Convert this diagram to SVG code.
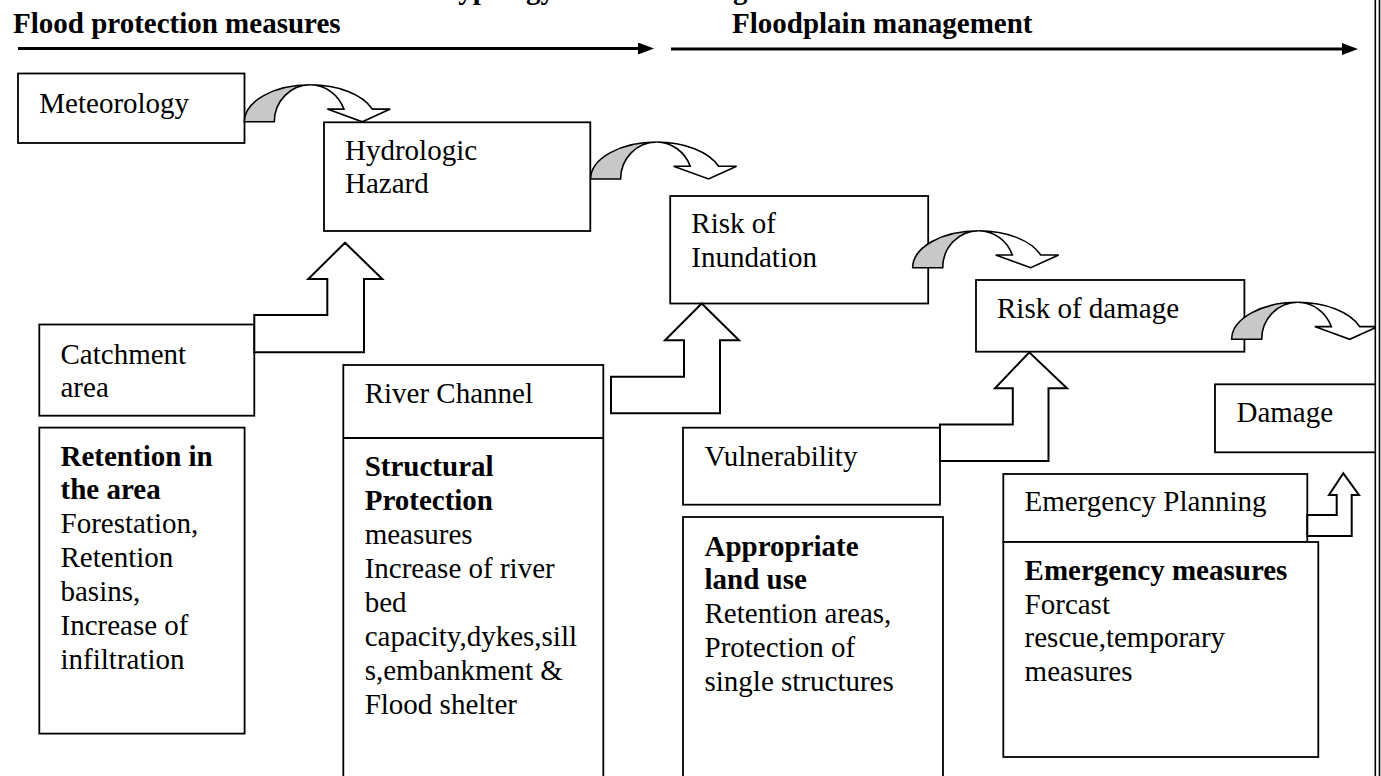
<svg xmlns="http://www.w3.org/2000/svg" width="1381" height="776" viewBox="0 0 1381 776">
<style>
.box{fill:#fff;stroke:#000;stroke-width:1.8}
.t{font-family:"Liberation Serif","Times New Roman",serif;font-size:29px;fill:#000}
.b{font-weight:bold}
.ba{fill:#fff;stroke:#000;stroke-width:2;stroke-linejoin:miter}
.hl{stroke:#000;stroke-width:2.8;fill:none}
.cg{fill:#c8c8c8;stroke:#000;stroke-width:1.6;stroke-linejoin:miter}
.cw{fill:#fff;stroke:#000;stroke-width:1.6;stroke-linejoin:miter}
</style>
<defs>
<marker id="ah" markerUnits="userSpaceOnUse" markerWidth="16" markerHeight="12" refX="0" refY="6" orient="auto">
<path d="M0,0 L16,6 L0,12 Z" fill="#000"/>
</marker>
<g id="curved">
<path class="cg" d="M0,0 A66,37 0 0 1 66,-37 A36,37 0 0 0 30,0 Z"/>
<path class="cw" d="M66,-37 A66,37 0 0 1 128,-12.7 L146,-12.7 L118,0 L83,-12.7 L99.6,-12.7 A36,37 0 0 0 66,-37 Z"/>
</g>
<clipPath id="inframe"><rect x="0" y="0" width="1375" height="776"/></clipPath>
</defs>
<rect width="1381" height="776" fill="#fff"/>

<g id="header">
<text class="t b" x="441" y="-1.5">Typology of flood management</text>
<text class="t b" x="13" y="33">Flood protection measures</text>
<text class="t b" x="732" y="33">Floodplain management</text>
<line class="hl" x1="18" y1="48.5" x2="638" y2="48.5" marker-end="url(#ah)"/>
<line class="hl" x1="671" y1="49" x2="1342" y2="49" marker-end="url(#ah)"/>
</g>

<g id="meteorology">
<rect class="box" x="18" y="73.5" width="226.5" height="69.5"/>
<text class="t" x="39.3" y="112.5">Meteorology</text>
</g>
<g id="hydrologic-hazard">
<rect class="box" x="324" y="122.3" width="266.3" height="108.7"/>
<text class="t" x="345" y="159.5">Hydrologic</text>
<text class="t" x="345" y="193.3">Hazard</text>
</g>
<g id="risk-of-inundation">
<rect class="box" x="670.2" y="196" width="258" height="107.5"/>
<text class="t" x="691.3" y="233.3">Risk of</text>
<text class="t" x="691.3" y="267">Inundation</text>
</g>
<g id="risk-of-damage">
<rect class="box" x="976" y="280" width="268.4" height="71.7"/>
<text class="t" x="997" y="317.7">Risk of damage</text>
</g>
<g id="damage">
<rect class="box" x="1215" y="384.3" width="161.7" height="68"/>
<text class="t" x="1236.5" y="422">Damage</text>
</g>
<g id="catchment-area">
<rect class="box" x="39.3" y="324.5" width="215" height="91.2"/>
<text class="t" x="60.5" y="363.7">Catchment</text>
<text class="t" x="60.5" y="397">area</text>
</g>
<g id="retention">
<rect class="box" x="39.3" y="427.6" width="205.3" height="306"/>
<text class="t b" x="60.5" y="465.5">Retention in</text>
<text class="t b" x="60.5" y="499.3">the area</text>
<text class="t" x="60.5" y="533.2">Forestation,</text>
<text class="t" x="60.5" y="567">Retention</text>
<text class="t" x="60.5" y="600.9">basins,</text>
<text class="t" x="60.5" y="634.7">Increase of</text>
<text class="t" x="60.5" y="668.6">infiltration</text>
</g>
<g id="river-channel">
<rect class="box" x="343.3" y="365" width="260" height="430"/>
<line x1="343.3" y1="438" x2="603.3" y2="438" stroke="#000" stroke-width="1.8"/>
<text class="t" x="364.7" y="402.5">River Channel</text>
<text class="t b" x="364.7" y="476.4">Structural</text>
<text class="t b" x="364.7" y="510.3">Protection</text>
<text class="t" x="364.7" y="544.2">measures</text>
<text class="t" x="364.7" y="578.1">Increase of river</text>
<text class="t" x="364.7" y="612">bed</text>
<text class="t" x="364.7" y="645.9">capacity,dykes,sill</text>
<text class="t" x="364.7" y="679.8">s,embankment &amp;</text>
<text class="t" x="364.7" y="713.7">Flood shelter</text>
</g>
<g id="vulnerability">
<rect class="box" x="683" y="427.7" width="257" height="77"/>
<text class="t" x="704.5" y="466">Vulnerability</text>
</g>
<g id="appropriate-land-use">
<rect class="box" x="683" y="517" width="260" height="280"/>
<text class="t b" x="704.5" y="555.5">Appropriate</text>
<text class="t b" x="704.5" y="589.3">land use</text>
<text class="t" x="704.5" y="623.1">Retention areas,</text>
<text class="t" x="704.5" y="657">Protection of</text>
<text class="t" x="704.5" y="690.8">single structures</text>
</g>
<g id="emergency-planning">
<rect class="box" x="1003.3" y="474" width="304" height="68"/>
<text class="t" x="1024.6" y="511">Emergency Planning</text>
</g>
<g id="emergency-measures">
<rect class="box" x="1003.3" y="542" width="315" height="215"/>
<text class="t b" x="1024.6" y="580">Emergency measures</text>
<text class="t" x="1024.6" y="613.5">Forcast</text>
<text class="t" x="1024.6" y="647">rescue,temporary</text>
<text class="t" x="1024.6" y="680.5">measures</text>
</g>

<g id="connectors">
<use href="#curved" transform="translate(244.3,121.8)"/>
<use href="#curved" transform="translate(590.6,179)"/>
<use href="#curved" transform="translate(912.7,267.7)"/>
<g clip-path="url(#inframe)"><use href="#curved" transform="translate(1231.7,339.3)"/></g>
<polygon class="ba" points="254.3,315 327.3,315 327.3,279 308.3,279 345,242.7 382.3,279 364,279 364,352.3 254.3,352.3"/>
<polygon class="ba" points="611,376.7 684,376.7 684,340.3 665,340.3 701.7,303.5 739,340.3 720,340.3 720,413.3 611,413.3"/>
<polygon class="ba" points="940,424.5 1012.8,424.5 1012.8,388.3 995,388.3 1029.3,352.3 1067,388.3 1048.5,388.3 1048.5,461 940,461"/>
<polygon class="ba" points="1307.3,515 1336.7,515 1336.7,495 1329,495 1343.3,473.3 1359,495 1351.7,495 1351.7,536 1307.3,536"/>
</g>

<g id="frame">
<rect x="1375" y="0" width="6" height="776" fill="#fff"/>
<line x1="1375.3" y1="0" x2="1375.3" y2="776" stroke="#000" stroke-width="1.6"/>
<line x1="1379.5" y1="0" x2="1379.5" y2="776" stroke="#000" stroke-width="1.6"/>
</g>
</svg>
